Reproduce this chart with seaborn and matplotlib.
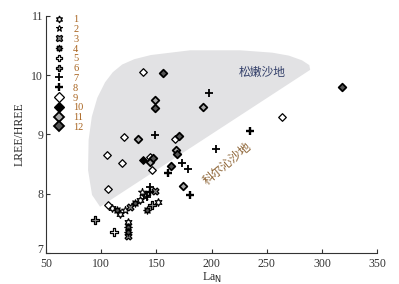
import numpy as np
import pandas as pd
import matplotlib
matplotlib.use("Agg")
import matplotlib.pyplot as plt
import matplotlib.transforms as mtransforms
from matplotlib.lines import Line2D
import seaborn as sns

# series values (La_N, LREE/HREE)
s1_x = [124.3, 109.8, 117.0, 135.2, 151.5]
s1_y = [7.52, 7.76, 7.66, 7.89, 7.86]
s2_x = [121.6, 139.8, 137.0]
s2_y = [7.73, 7.96, 8.03]
s3_x = [124.3, 126.0, 149.0]
s3_y = [7.29, 7.78, 8.05]
s4_x = [124.3, 124.3, 114.4, 130.7, 141.6]
s4_y = [7.44, 7.35, 7.73, 7.84, 7.73]
s5_x = [111.6]
s5_y = [7.35]
s6_x = [94.4, 146.0]
s6_y = [7.56, 7.81]
s7_x = [148.8, 197.8, 204.0, 173.3, 178.7, 144.3, 141.6]
s7_y = [8.99, 9.70, 8.75, 8.52, 8.42, 8.11, 7.94]
s8_x = [234.9, 160.6, 180.6, 144.3]
s8_y = [9.06, 8.35, 7.98, 8.03]
s9_x = [138.0, 105.3, 120.7, 118.9, 106.2, 106.2, 144.3, 146.0, 167.0, 264.0]
s9_y = [10.05, 8.65, 8.96, 8.52, 8.08, 7.81, 8.62, 8.40, 8.92, 9.30]
s10_x = [138.0]
s10_y = [8.57]
s11_x = [148.8, 192.3, 133.4, 144.3, 167.9, 174.2]
s11_y = [9.58, 9.46, 8.92, 8.53, 8.74, 8.13]
s12_x = [156.0, 148.8, 318.4, 147.0, 170.6, 168.8, 163.0]
s12_y = [10.03, 9.45, 9.80, 8.60, 8.97, 8.67, 8.47]

labels = [str(i) for i in range(1, 13)]

# outline of the Songnen field (gray area)
field_x = [99.0, 91.7, 88.1, 88.6, 91.5, 96.5, 103.5, 110.5, 119.0, 130.0,
           145.0, 180.6, 225.9, 255.0, 270.0, 282.0, 288.5, 289.3]
field_y = [7.78, 7.98, 8.40, 8.91, 9.30, 9.62, 9.88, 10.05, 10.18, 10.27,
           10.34, 10.42, 10.42, 10.38, 10.33, 10.25, 10.17, 10.09]

xs = [s1_x, s2_x, s3_x, s4_x, s5_x, s6_x, s7_x, s8_x, s9_x, s10_x, s11_x, s12_x]
ys = [s1_y, s2_y, s3_y, s4_y, s5_y, s6_y, s7_y, s8_y, s9_y, s10_y, s11_y, s12_y]

# marker, face colour, size, edge width
styles = [
    ((6, 1, 0), "white", 30, 0.9),
    ("*", "white", 34, 0.8),
    ("X", "#888888", 24, 0.9),
    ((8, 1, 0), "#555555", 28, 0.9),
    ("P", "white", 28, 0.9),
    ("P", "#999999", 28, 0.9),
    ("+", "black", 36, 1.3),
    ("+", "black", 36, 1.7),
    ("D", "white", 15, 0.9),
    ("D", "black", 15, 0.9),
    ("D", "#aaaaaa", 15, 1.3),
    ("D", "#555555", 15, 1.3),
]

sns.set_style("ticks")
plt.rcParams["font.family"] = ["Liberation Serif", "Noto Sans CJK SC"]

fig = plt.figure(figsize=(3.99, 2.84), dpi=100)
ax = fig.add_axes([0.1153, 0.109, 0.83, 0.835])

ax.fill(field_x, field_y, color="#e2e2e4", lw=0, zorder=0)

handles = []
for x, y, (m, fc, s, lw) in zip(xs, ys, styles):
    d = pd.DataFrame({"x": x, "y": y})
    if m == "+":
        sns.scatterplot(data=d, x="x", y="y", marker=m, color="black", s=s,
                        linewidth=lw, ax=ax, zorder=3)
        handles.append(Line2D([], [], ls="", marker=m, color="black",
                              markersize=6, markeredgewidth=lw))
    else:
        sns.scatterplot(data=d, x="x", y="y", marker=m, color=fc, edgecolor="black",
                        s=s, linewidth=lw, ax=ax, zorder=3)
        handles.append(Line2D([], [], ls="", marker=m, markerfacecolor=fc,
                              markeredgecolor="black", markersize=5,
                              markeredgewidth=lw))

leg = ax.legend(handles, labels, loc="upper left", bbox_to_anchor=(0.0, 1.035),
                frameon=False, fontsize=7.5, handletextpad=0.9, labelspacing=0.05,
                borderaxespad=0.3, handlelength=1.0)
for t in leg.get_texts():
    t.set_color("#a8631e")

ax.text(245.8, 10.04, "松嫩沙地", fontsize=8.5, color="#34406a", ha="center",
        va="center", family=["Noto Sans CJK SC"])
ax.text(214.0, 8.50, "科尔沁沙地", fontsize=8.5, color="#8a6030", ha="center",
        va="center", rotation=40, family=["Noto Sans CJK SC"])

ax.set_xlim(50, 350)
ax.set_ylim(7, 11)
ax.set_xticks([50, 100, 150, 200, 250, 300, 350])
ax.set_yticks([7, 8, 9, 10, 11])
ax.tick_params(direction="in", length=3, width=0.8, labelsize=8.5, colors="#333333")
ax.tick_params(axis="x", pad=3.5)
ax.tick_params(axis="y", pad=2)
ax.set_xlabel("La$_\\mathrm{N}$", fontsize=8.5, labelpad=1)
ax.set_ylabel("LREE/HREE", fontsize=8.5, labelpad=4)
for sp in ["left", "bottom"]:
    ax.spines[sp].set_linewidth(0.8)
    ax.spines[sp].set_color("#333333")
sns.despine(ax=ax)

# lift the lowest y label a little so it clears the "50"
lbl7 = ax.get_yticklabels()[0]
lbl7.set_transform(lbl7.get_transform() + mtransforms.ScaledTranslation(0, 3 / 72, fig.dpi_scale_trans))

fig.savefig("out.png", dpi=100)
